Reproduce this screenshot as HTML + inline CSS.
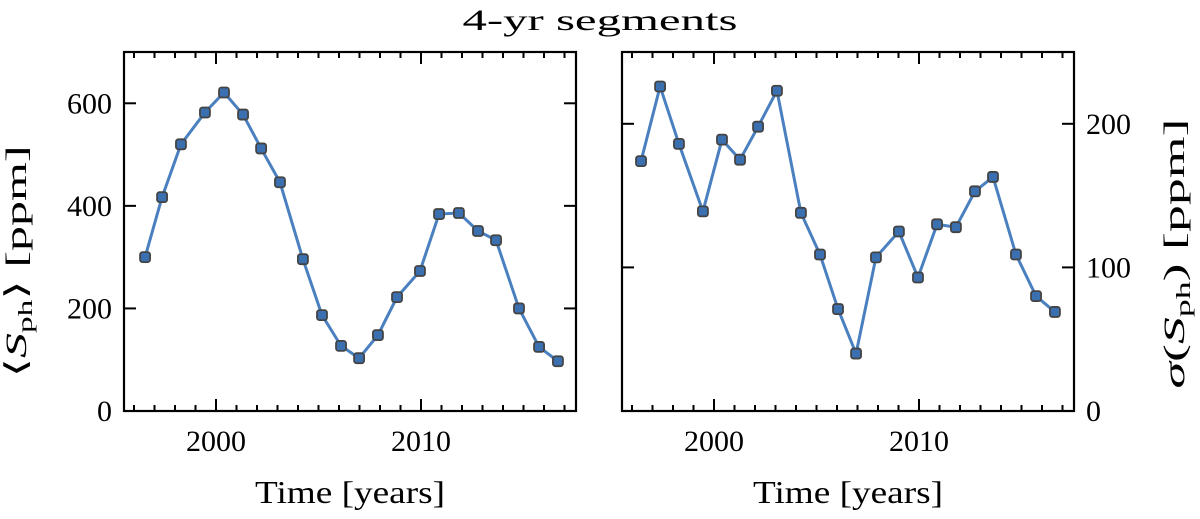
<!DOCTYPE html>
<html><head><meta charset="utf-8"><style>
body{margin:0;background:#fff;}
svg text{font-family:"Liberation Serif",serif;fill:#000;}
</style></head><body>
<svg id="c" width="1200" height="514" xmlns="http://www.w3.org/2000/svg">
<text x="600" y="30" font-size="30" text-anchor="middle" textLength="275" lengthAdjust="spacingAndGlyphs">4-yr segments</text>
</svg>
<script>
const yearsL=[1996.54,1997.37,1998.29,1999.46,2000.39,2001.32,2002.2,2003.12,2004.24,2005.17,2006.1,2006.98,2007.9,2008.83,2009.95,2010.88,2011.85,2012.78,2013.66,2014.78,2015.76,2016.68];
const meanS=[300,417,520,582,621,578,512,446,296,187,127,103,148,222,273,384,386,351,333,200,125,97];
const yearsR=[1996.44,1997.37,1998.29,1999.46,2000.39,2001.27,2002.15,2003.07,2004.24,2005.17,2006.05,2006.93,2007.9,2009.02,2009.95,2010.88,2011.8,2012.73,2013.61,2014.73,2015.71,2016.63];
const sigmaS=[174,226,186,139,189,175,198,223,138,109,71,40,107,125,93,130,128,153,163,109,80,69];
const yTicksL=[0,200,400,600];
const yTicksR=[0,100,200];
const xTicks=[2000,2010];
const svg=document.getElementById('c');
const NS='http://www.w3.org/2000/svg';
function mk(tag,attrs,parent){const e=document.createElementNS(NS,tag);for(const k in attrs)e.setAttribute(k,attrs[k]);(parent||svg).appendChild(e);return e;}
function panel(x0,x1,ymax,years,vals,yt,labelRight,name,ylab,ylen){
  const top=52,bot=411;
  const sx=y=>x0+92+(y-2000)*20.5;
  const sy=v=>bot-(v/ymax)*(bot-top);
  const g=mk('g',{});
  
  
  for(let yr=1996;yr<=2017;yr++){
    const X=sx(yr);if(X<x0||X>x1)continue;
    const L=(yr%10===0)?12:6;
    mk('line',{x1:X,y1:bot,x2:X,y2:bot-L,stroke:'#000','stroke-width':2},g);
    mk('line',{x1:X,y1:top,x2:X,y2:top+L,stroke:'#000','stroke-width':2},g);
  }
  xTicks.forEach(t=>{const tx=mk('text',{x:sx(t),y:451,'font-size':30,'text-anchor':'middle'},g);tx.textContent=t;
    
    });
  yt.forEach(t=>{const Y=sy(t);
    mk('line',{x1:x0,y1:Y,x2:x0+12,y2:Y,stroke:'#000','stroke-width':2},g);
    mk('line',{x1:x1,y1:Y,x2:x1-12,y2:Y,stroke:'#000','stroke-width':2},g);
    const tx=mk('text',{x:labelRight?x1+12:x0-12,y:Y+10,'font-size':30,'text-anchor':labelRight?'start':'end'},g);tx.textContent=t;
    
    });
  mk('rect',{x:x0,y:top,width:x1-x0,height:bot-top,fill:'none',stroke:'#000','stroke-width':2.2},g);
  const pts=years.map((y,i)=>sx(y)+','+sy(vals[i])).join(' ');
  const pl=mk('polyline',{points:pts,fill:'none',stroke:'#4a80bf','stroke-width':3},g);
  
  
  years.forEach((y,i)=>{const r=mk('rect',{x:sx(y)-5,y:sy(vals[i])-5,width:10,height:10,rx:2.5,fill:'#3a6fb0',stroke:'#444','stroke-width':1.8},g);
    
    });
  const xl=mk('text',{x:(x0+x1)/2,y:503,'font-size':32,'text-anchor':'middle',textLength:190,lengthAdjust:'spacingAndGlyphs'},g);xl.textContent='Time [years]';
  
  
  const cx=labelRight?x1+110:x0-98, cy=labelRight?(top+bot)/2+22:(top+bot)/2+30;
  const yl=mk('text',{x:cx,y:cy,'font-size':30,'text-anchor':'middle',transform:`rotate(-90 ${cx} ${cy})`,textLength:ylen,lengthAdjust:'spacingAndGlyphs'},g);
  yl.innerHTML=ylab;
  
  
}
panel(124,576,700,yearsL,meanS,yTicksL,false,'left-panel','⟨<tspan font-style="italic">S</tspan><tspan font-size="20" dy="6">ph</tspan><tspan dy="-6">⟩ [ppm]</tspan>',232);
panel(622,1074,250,yearsR,sigmaS,yTicksR,true,'right-panel','<tspan font-style="italic">σ</tspan>(<tspan font-style="italic">S</tspan><tspan font-size="20" dy="6">ph</tspan><tspan dy="-6">) [ppm]</tspan>',270);
</script>
</body></html>
